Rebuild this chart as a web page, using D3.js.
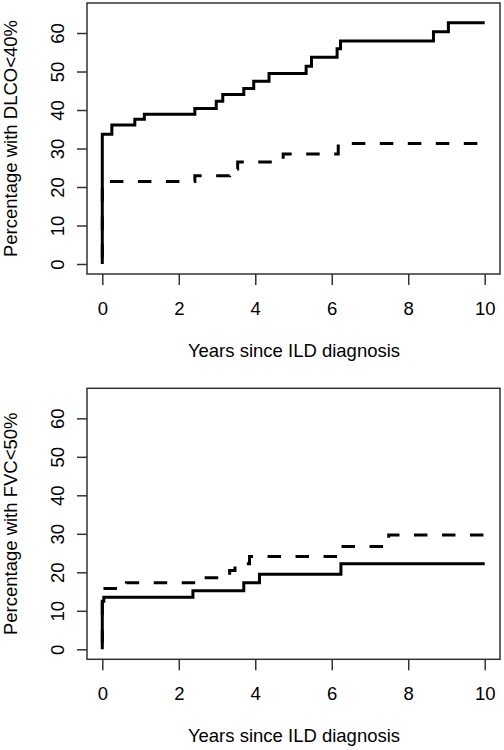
<!DOCTYPE html>
<html>
<head>
<meta charset="utf-8">
<script src="https://cdn.jsdelivr.net/npm/d3@7"></script>
<style>
  html, body { margin: 0; padding: 0; background: #fff; }
  svg { display: block; }
  text { font-family: "Liberation Sans", Arial, Helvetica, sans-serif; fill: #000; }
</style>
</head>
<body>
<script>
// ---- Data ----
const xTicks = [0, 2, 4, 6, 8, 10];
const yTicks = [0, 10, 20, 30, 40, 50, 60];
const xTitle = "Years since ILD diagnosis";

// Panel 1: DLCO < 40%
const dlcoTitle = "Percentage with DLCO<40%";
const dlcoSolidTimes  = [0, 0, 0.25, 0.85, 1.1, 2.42, 2.98, 3.15, 3.7, 3.96, 4.36, 5.33, 5.47, 6.14, 6.23, 8.66, 9.05, 10];
const dlcoSolidValues = [0, 33.7, 36.1, 37.6, 38.9, 40.4, 42.3, 44.0, 45.6, 47.5, 49.5, 51.4, 53.7, 55.9, 57.9, 60.3, 62.7, 62.7];
const dlcoDashTimes   = [0, 0, 2.42, 3.33, 3.54, 4.73, 6.17, 10];
const dlcoDashValues  = [0, 21.4, 22.9, 24.7, 26.5, 28.6, 31.3, 31.3];

// Panel 2: FVC < 50%
const fvcTitle = "Percentage with FVC<50%";
const fvcSolidTimes  = [0, 0, 0.04, 2.37, 3.7, 4.11, 6.24, 10];
const fvcSolidValues = [0, 12.5, 13.5, 15.2, 17.3, 19.5, 22.2, 22.2];
const fvcDashTimes   = [0, 0, 0.63, 2.48, 3.33, 3.47, 3.85, 6.19, 7.49, 10];
const fvcDashValues  = [0, 15.8, 17.3, 18.6, 20.5, 22.2, 24.1, 26.7, 29.7, 29.7];

// ---- Layout ----
const W = 504, H = 750;
const svg = d3.select("body").append("svg").attr("width", W).attr("height", H);

const panels = [
  { title: dlcoTitle, top: 3, bottom: 274,
    series: [ {t: dlcoSolidTimes, v: dlcoSolidValues, dash: null},
              {t: dlcoDashTimes,  v: dlcoDashValues,  dash: "13.5,14.5"} ] },
  { title: fvcTitle, top: 388.3, bottom: 659.3,
    series: [ {t: fvcSolidTimes, v: fvcSolidValues, dash: null},
              {t: fvcDashTimes,  v: fvcDashValues,  dash: "13.5,14.5"} ] }
];

const left = 87, right = 500;
const fs = 18.5;

panels.forEach(p => {
  const x = d3.scaleLinear().domain([-0.4, 10.4]).range([left, right]);
  const y = d3.scaleLinear().domain([-2.6, 67.8]).range([p.bottom, p.top]);
  const g = svg.append("g");

  // data lines
  const line = d3.line().x(d => x(d[0])).y(d => y(d[1])).curve(d3.curveStepAfter);
  p.series.slice().reverse().forEach(s => {
    const pts = s.t.map((t, i) => [t, s.v[i]]);
    g.append("path")
      .attr("d", line(pts))
      .attr("fill", "none")
      .attr("stroke", "#000")
      .attr("stroke-width", 3)
      .attr("stroke-linejoin", "miter")
      .attr("stroke-linecap", "butt")
      .attr("stroke-dasharray", s.dash)
      .attr("stroke-dashoffset", s.dash ? -6 : null);
  });

  // box
  g.append("rect")
    .attr("x", left).attr("y", p.top)
    .attr("width", right - left).attr("height", p.bottom - p.top)
    .attr("fill", "none").attr("stroke", "#333").attr("stroke-width", 1.5);

  // x axis
  const xAxis = d3.axisBottom(x).tickValues(xTicks).tickSize(11).tickFormat(d3.format("d"));
  const gx = g.append("g").attr("transform", `translate(0,${p.bottom})`).call(xAxis);
  gx.select(".domain").remove();
  gx.selectAll(".tick line").attr("stroke", "#333").attr("stroke-width", 1.5);
  gx.selectAll(".tick text")
    .attr("font-size", fs).attr("font-family", "Liberation Sans, Arial, sans-serif").attr("fill", "#000")
    .attr("y", 34).attr("dy", null)
    .attr("dominant-baseline", "central");

  // y axis (labels rotated, like R's default)
  const yAxis = d3.axisLeft(y).tickValues(yTicks).tickSize(10).tickFormat(d3.format("d"));
  const gy = g.append("g").attr("transform", `translate(${left},0)`).call(yAxis);
  gy.select(".domain").remove();
  gy.selectAll(".tick line").attr("stroke", "#333").attr("stroke-width", 1.5);
  gy.selectAll(".tick text")
    .attr("font-size", fs).attr("font-family", "Liberation Sans, Arial, sans-serif").attr("fill", "#000")
    .attr("x", null).attr("dy", null)
    .attr("text-anchor", "middle")
    .attr("transform", "translate(-30,0) rotate(-90)")
    .attr("dominant-baseline", "central");

  // x title
  g.append("text")
    .attr("x", (x(0) + x(10)) / 2 + 0.5)
    .attr("y", p.bottom + 82.5)
    .attr("text-anchor", "middle")
    .attr("font-size", fs)
    .text(xTitle);

  // y title
  g.append("text")
    .attr("transform", `translate(17,${(p.top + p.bottom) / 2}) rotate(-90)`)
    .attr("text-anchor", "middle")
    .attr("font-size", fs)
    .text(p.title);
});
</script>
</body>
</html>
